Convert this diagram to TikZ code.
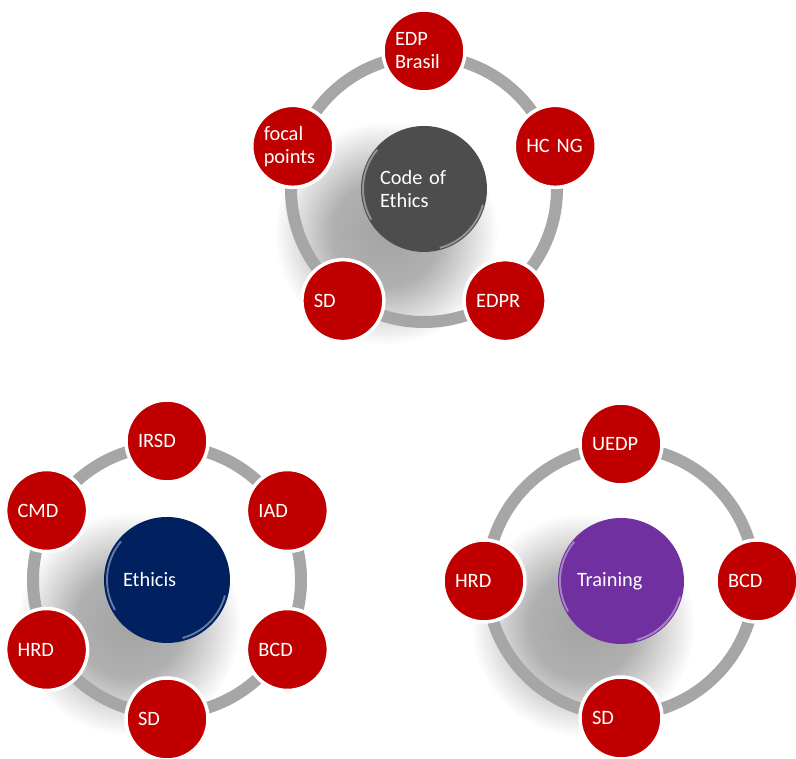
\documentclass[tikz,border=0pt]{standalone}
\usepackage{fontspec}
\setmainfont{Carlito}
\definecolor{ringgray}{RGB}{166,166,166}
\definecolor{satred}{RGB}{192,0,0}
\definecolor{hubgray}{RGB}{77,77,77}
\definecolor{hubnavy}{RGB}{0,32,96}
\definecolor{hubpurple}{RGB}{112,48,160}
\pgfdeclareradialshading{softblob}{\pgfpoint{0bp}{0bp}}{color(0bp)=(black!36); color(12bp)=(black!31); color(25bp)=(white); color(50bp)=(white)}
\tikzset{
	sat/.style={circle, fill=satred, draw=white, line width=0.07cm, minimum size=1.64cm, inner sep=0pt,
		text=white, text width=1.16cm, align=left, font=\fontsize{11.6}{13.1}\selectfont},
	hub/.style={circle, minimum size=2.52cm, inner sep=0pt,
		text=white, text width=1.76cm, align=left, font=\fontsize{11.6}{13.1}\selectfont},
	ring/.style={draw=ringgray, line width=0.24cm},
	gloss/.style={draw=white, line width=1.1pt, opacity=0.4},
	shadowblob/.style={shading=softblob}
}
\begin{document}
\begin{tikzpicture}[x=0.02cm, y=0.02cm]
		\useasboundingbox (0,0) rectangle (796,759);

		% Code of Ethics (top)
		\begin{scope}[shift={(424,570)}]
			\shade[shadowblob] (-38,-44) circle (112);
			\draw[ring] (0,0) circle (133);
			\node[hub, fill=hubgray] (cohub) at (0,0) {Code of\\Ethics};
			\draw[gloss] (140:61) arc[start angle=140, end angle=210, radius=61];
			\draw[gloss] (-15:61) arc[start angle=-15, end angle=-75, radius=61];
			\node[sat] (cobrasil) at (90:138) {EDP\\Brasil};
			\node[sat] (cohcng) at (18:138) {HC NG};
			\node[sat] (coedpr) at (-54:138) {EDPR};
			\node[sat] (cosd) at (-126:138) {SD};
			\node[sat] (cofocal) at (162:138) {focal\\points};
		\end{scope}

		% Ethicis (bottom left)
		\begin{scope}[shift={(167,179)}]
			\shade[shadowblob] (-38,-44) circle (112);
			\draw[ring] (0,0) circle (134);
			\node[hub, fill=hubnavy] (ethub) at (0,0) {Ethicis};
			\draw[gloss] (140:60) arc[start angle=140, end angle=210, radius=60];
			\draw[gloss] (-15:60) arc[start angle=-15, end angle=-75, radius=60];
			\node[sat] (etirsd) at (90:139) {IRSD};
			\node[sat] (etiad) at (30:139) {IAD};
			\node[sat] (etbcd) at (-30:139) {BCD};
			\node[sat] (etsd) at (-90:139) {SD};
			\node[sat] (ethrd) at (-150:139) {HRD};
			\node[sat] (etcmd) at (150:139) {CMD};
		\end{scope}

		% Training (bottom right)
		\begin{scope}[shift={(621,178)}]
			\shade[shadowblob] (-38,-44) circle (112);
			\draw[ring] (0,0) circle (134);
			\node[hub, fill=hubpurple] (trhub) at (0,0) {Training};
			\draw[gloss] (140:61) arc[start angle=140, end angle=210, radius=61];
			\draw[gloss] (-15:61) arc[start angle=-15, end angle=-75, radius=61];
			\node[sat] (truedp) at (90:137) {UEDP};
			\node[sat] (trbcd) at (0:136) {BCD};
			\node[sat] (trsd) at (-90:137) {SD};
			\node[sat] (trhrd) at (180:137) {HRD};
		\end{scope}
	\end{tikzpicture}
\end{document}
